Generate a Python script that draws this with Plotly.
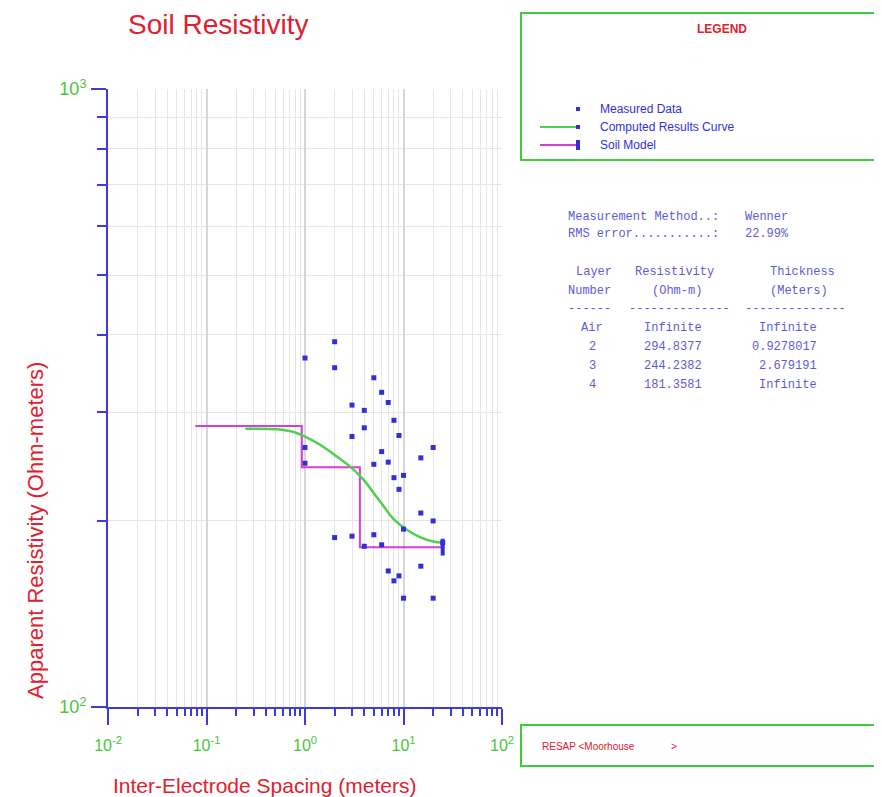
import plotly.graph_objects as go

# ---------------- data ----------------
spacing = [1, 1, 1, 2, 2, 2, 3, 3, 3, 4, 4, 4, 5, 5, 5, 6, 6, 6,
           7, 7, 7, 8, 8, 8, 9, 9, 9, 10, 10, 10, 15, 15, 15, 20, 20, 20]
measured = [367, 263, 248, 390, 354, 188, 308, 274, 189, 302, 283, 182,
            341, 247, 190, 323, 259, 183, 311, 249, 166, 291, 235, 160,
            275, 225, 163, 237, 194, 150, 253, 206, 169, 263, 200, 150]

curve_x = [0.248, 0.52, 0.767, 1.0, 1.435, 2.12, 3.01, 3.96, 5.0, 6.32, 7.98, 10.9, 14.9, 20.4, 25]
curve_y = [282.0, 281.4, 278.6, 273.8, 265.4, 254.1, 243.3, 232.9, 221.7, 211.0, 201.2, 193.4, 188.2, 185.1, 184.4]

soil_x = [0.077, 0.928, 0.928, 3.607, 3.607, 25]
soil_y = [285, 285, 244.2, 244.2, 181.4, 181.4]

x_tick_vals = [0.01, 0.1, 1, 10, 100]
x_tick_text = ["10<sup>-2</sup>", "10<sup>-1</sup>", "10<sup>0</sup>", "10<sup>1</sup>", "10<sup>2</sup>"]
y_tick_vals = [100, 1000]
y_tick_text = ["10<sup>2</sup>", "10<sup>3</sup>"]

method_keys = ["Measurement Method..:", "RMS error...........:"]
method_vals = ["Wenner", "22.99%"]
header_top = ["Layer", "Resistivity", "Thickness"]
header_bot = ["Number", "(Ohm-m)", "(Meters)"]
header_rule = ["------", "--------------", "--------------"]
layer_col = ["Air", "2", "3", "4"]
resist_col = ["Infinite", "294.8377", "244.2382", "181.3581"]
thick_col = ["Infinite", "0.9278017", "2.679191", "Infinite"]
legend_labels = ["Measured Data", "Computed Results Curve", "Soil Model"]

# ---------------- layout helpers (page pixel -> paper) ----------------
OFF = 8                      # default page body margin
W, H = 882 - OFF, 797 - OFF  # figure size
L, R, T, B = 108, 502, 89, 707  # plot area in page pixels


def px(x):
    return (x - L) / (R - L)


def py(y):
    return (B - y) / (B - T)


BLUE = "#3030d6"
GREEN = "#4fcf4f"
MAGENTA = "#d63fd6"
RED = "#e0202e"
TICKC = "#4cc43c"
AXC = "#3c3cdc"
SANS = "Liberation Sans, Arial, sans-serif"
MONO = "Liberation Mono, Courier New, monospace"
TXT = "#5c5cd4"

fig = go.Figure()

fig.add_trace(go.Scatter(x=soil_x, y=soil_y, mode="lines",
                         line=dict(color=MAGENTA, width=2), showlegend=False))
fig.add_trace(go.Scatter(x=curve_x, y=curve_y, mode="lines",
                         line=dict(color=GREEN, width=2.5, shape="spline"), showlegend=False))
fig.add_trace(go.Scatter(x=spacing, y=measured, mode="markers",
                         marker=dict(color=BLUE, size=5, symbol="square"), showlegend=False))
fig.add_trace(go.Scatter(x=[soil_x[-1]], y=[soil_y[-1]], mode="markers",
                         marker=dict(symbol="line-ns", size=12,
                                     line=dict(color=BLUE, width=4)), showlegend=False))
fig.add_trace(go.Scatter(x=[curve_x[-1]], y=[curve_y[-1]], mode="markers",
                         marker=dict(color=BLUE, size=5, symbol="square"), showlegend=False))

shapes = []
annotations = []


def txt(text, x, y, size, color, family=SANS, xanchor="left", yanchor="middle", **kw):
    annotations.append(dict(text=text, x=px(x), y=py(y), xref="paper", yref="paper",
                            showarrow=False, xanchor=xanchor, yanchor=yanchor,
                            font=dict(family=family, size=size, color=color), **kw))


# Title and axis titles
txt("Soil Resistivity", 127, OFF, 28, RED, yanchor="top", borderpad=0)
txt("Apparent Resistivity (Ohm-meters)", 35, 531, 22, RED, xanchor="center", textangle=-90)
txt("Inter-Electrode Spacing (meters)", 264, 785, 21, RED, xanchor="center")

# Legend box
shapes.append(dict(type="rect", xref="paper", yref="paper", x0=px(521), x1=px(900),
                   y0=py(13), y1=py(160), line=dict(color="#3ccc3c", width=2)))
txt("<b>LEGEND</b>", 722, 29, 12, RED, xanchor="center")
leg_y = [109, 127, 145]
shapes.append(dict(type="line", xref="paper", yref="paper", x0=px(540), x1=px(578),
                   y0=py(leg_y[1]), y1=py(leg_y[1]), line=dict(color=GREEN, width=2)))
shapes.append(dict(type="line", xref="paper", yref="paper", x0=px(540), x1=px(578),
                   y0=py(leg_y[2]), y1=py(leg_y[2]), line=dict(color=MAGENTA, width=2)))
for yy, hh in zip(leg_y, [2, 2, 5]):
    shapes.append(dict(type="rect", xref="paper", yref="paper", x0=px(576), x1=px(580),
                       y0=py(yy + hh), y1=py(yy - hh), line=dict(width=0), fillcolor=BLUE))
for lab, yy in zip(legend_labels, leg_y):
    txt(lab, 598, yy, 12, BLUE)

# Text table
for k, v, yy in zip(method_keys, method_vals, [217, 234]):
    txt(k, 566, yy, 12, TXT, family=MONO)
    txt(v, 743, yy, 12, TXT, family=MONO)
for t, cx in zip(header_top, [574, 633, 768]):
    txt(t, cx, 272, 12, TXT, family=MONO)
for t, cx in zip(header_bot, [566, 650, 768]):
    txt(t, cx, 291, 12, TXT, family=MONO)
for t, cx in zip(header_rule, [566, 627, 743]):
    txt(t, cx, 309, 12, TXT, family=MONO)
for i in range(len(layer_col)):
    yy = 328 + 19 * i
    txt(layer_col[i], 592, yy, 12, TXT, family=MONO, xanchor="center")
    txt(resist_col[i], 642, yy, 12, TXT, family=MONO, xanchor="left")
    txt(thick_col[i], 819, yy, 12, TXT, family=MONO, xanchor="right")

# Bottom box
shapes.append(dict(type="rect", xref="paper", yref="paper", x0=px(521), x1=px(900),
                   y0=py(725), y1=py(766), line=dict(color="#3ccc3c", width=2)))
txt("RESAP &lt;Moorhouse", 540, 746, 10, RED)
txt("&gt;", 669, 746, 10, RED)

fig.update_layout(
    width=W, height=H,
    margin=dict(l=L - OFF, r=W - (R - OFF), t=T - OFF, b=H - (B - OFF), pad=0),
    paper_bgcolor="white", plot_bgcolor="white",
    shapes=shapes, annotations=annotations,
    showlegend=False,
)

fig.update_xaxes(
    type="log", range=[-2, 2], tickmode="array", tickvals=x_tick_vals, ticktext=x_tick_text,
    showline=True, linecolor=AXC, linewidth=2, mirror=False,
    ticks="outside", ticklen=16, tickwidth=2, tickcolor=AXC,
    ticklabelstandoff=7,
    tickfont=dict(family=SANS, size=16, color=TICKC),
    showgrid=True, gridcolor="#d6d6d6", gridwidth=1.5, zeroline=False,
    minor=dict(dtick="D1", ticks="outside", ticklen=7, tickwidth=2, tickcolor=AXC,
               showgrid=True, gridcolor="#e6e6e6", gridwidth=1),
)
fig.update_yaxes(
    type="log", range=[2, 3], tickmode="array", tickvals=y_tick_vals, ticktext=y_tick_text,
    showline=True, linecolor=AXC, linewidth=2, mirror=False,
    ticks="outside", ticklen=15, tickwidth=2, tickcolor=AXC,
    ticklabelstandoff=1,
    tickfont=dict(family=SANS, size=18, color=TICKC),
    showgrid=True, gridcolor="#d6d6d6", gridwidth=1.5, zeroline=False,
    minor=dict(dtick="D1", ticks="outside", ticklen=9, tickwidth=2, tickcolor=AXC,
               showgrid=True, gridcolor="#e6e6e6", gridwidth=1),
)

fig.write_html("out.html")
